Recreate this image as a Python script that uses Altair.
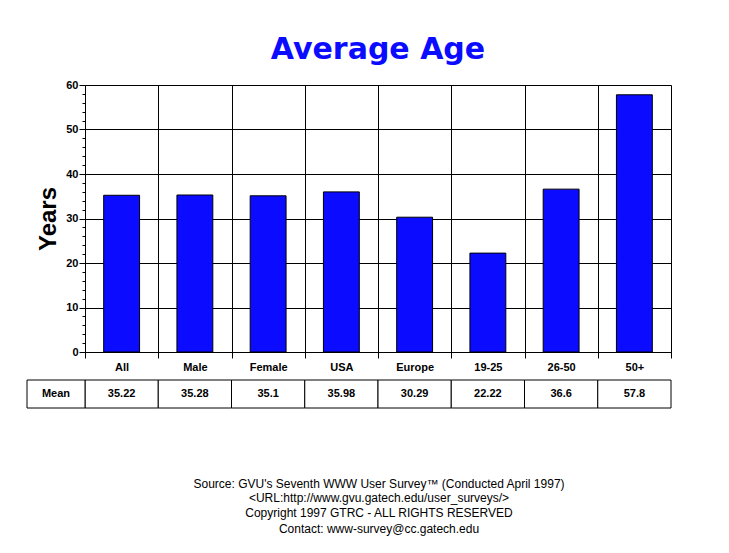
import altair as alt
import pandas as pd

categories = ["All", "Male", "Female", "USA", "Europe", "19-25", "26-50", "50+"]
means = [35.22, 35.28, 35.1, 35.98, 30.29, 22.22, 36.6, 57.8]
mean_labels = ["35.22", "35.28", "35.1", "35.98", "30.29", "22.22", "36.6", "57.8"]
row_label = ["Mean"]
footer_lines = [
    "Source: GVU's Seventh WWW User Survey\u2122 (Conducted April 1997)",
    "<URL:http://www.gvu.gatech.edu/user_surveys/>",
    "Copyright 1997 GTRC - ALL RIGHTS RESERVED",
    "Contact: www-survey@cc.gatech.edu",
]
y_ticks = list(range(0, 61, 2))

df = pd.DataFrame({"category": categories, "mean": means, "label": mean_labels})

FONT = "Liberation Sans"
BLUE = "#0b0bff"

xscale = alt.Scale(paddingInner=0, paddingOuter=0)

bars = alt.Chart(df).mark_bar(
    color=BLUE, stroke="black", strokeWidth=1, width={"band": 0.49}
).encode(
    x=alt.X("category:N", sort=categories, scale=xscale,
            axis=alt.Axis(title=None, tickBand="extent", grid=True, gridColor="black",
                          gridOpacity=1, tickColor="black", tickSize=6, domainColor="black",
                          labelAngle=0, labelAlign="center", labelFont=FONT, labelFontSize=11,
                          labelFontWeight="bold", labelColor="black", labelPadding=9)),
    y=alt.Y("mean:Q", scale=alt.Scale(domain=[0, 60], nice=False),
            axis=alt.Axis(title="Years", values=y_ticks,
                          labelExpr="datum.value % 10 === 0 ? datum.label : ''",
                          tickSize={"condition": {"test": "datum.value % 10 === 0", "value": 6}, "value": 3},
                          gridOpacity={"condition": {"test": "datum.value % 10 === 0", "value": 1}, "value": 0},
                          grid=True, gridColor="black", tickColor="black", domainColor="black",
                          labelFont=FONT, labelFontSize=11, labelFontWeight="bold", labelColor="black",
                          labelPadding=1,
                          titleFont=FONT, titleFontSize=24, titleFontWeight="bold", titleColor="black",
                          titlePadding=5)),
)

cells = alt.Chart(df).mark_rect(fill="white", stroke="black", strokeWidth=1).encode(
    x=alt.X("category:N", sort=categories, scale=xscale),
    y=alt.value(295), y2=alt.value(323),
)
cell_text = alt.Chart(df).mark_text(font=FONT, fontSize=11, fontWeight="bold", color="black").encode(
    x=alt.X("category:N", sort=categories, scale=xscale),
    y=alt.value(309),
    text="label:N",
)

rl = pd.DataFrame({"t": row_label})
mean_cell = alt.Chart(rl).mark_rect(fill="white", stroke="black", strokeWidth=1).encode(
    x=alt.value(-58), x2=alt.value(0), y=alt.value(295), y2=alt.value(323)
)
mean_text = alt.Chart(rl).mark_text(font=FONT, fontSize=11, fontWeight="bold", color="black").encode(
    x=alt.value(-29), y=alt.value(309), text="t:N"
)

footer_y = [399, 413, 428, 444]
footer_layers = []
for line, yy in zip(footer_lines, footer_y):
    footer_layers.append(
        alt.Chart(pd.DataFrame({"t": [line]})).mark_text(
            font=FONT, fontSize=12, color="black"
        ).encode(x=alt.value(294), y=alt.value(yy), text="t:N")
    )

chart = alt.layer(cells, cell_text, mean_cell, mean_text, bars, *footer_layers).properties(
    width=586, height=267,
    title=alt.Title("Average Age", font="DejaVu Sans", fontSize=30, fontWeight="bold", color=BLUE,
                    anchor="middle", offset=14),
    autosize=alt.AutoSizeParams(type="none"),
    padding={"left": 77, "top": 77, "right": 50, "bottom": 193},
).configure_view(stroke="black", strokeWidth=1).configure(background="white")

chart.save("out.html", embed_options={"renderer": "svg", "actions": False})
